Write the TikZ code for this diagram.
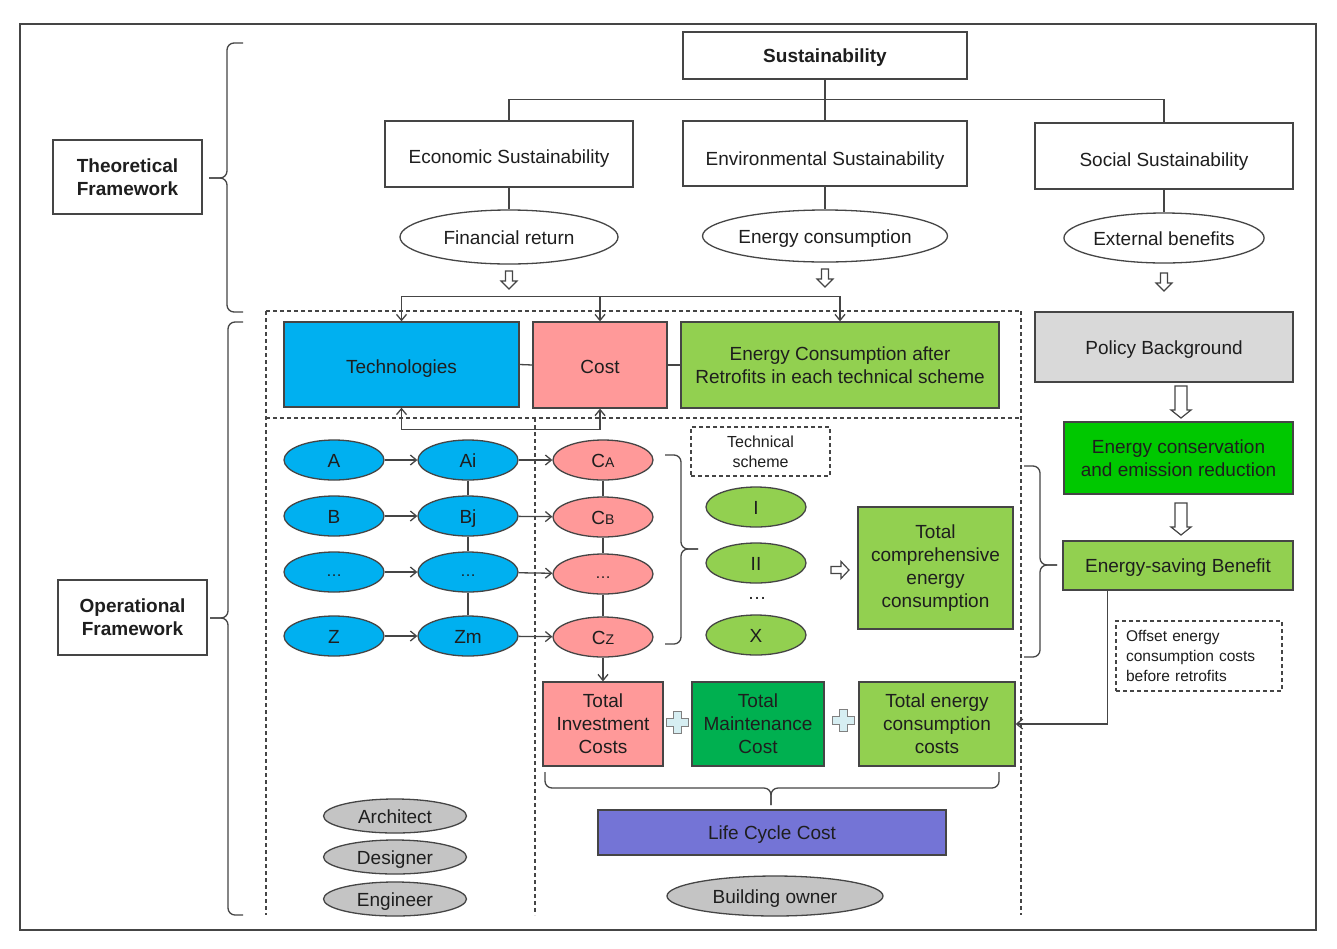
\documentclass[tikz,border=0pt]{standalone}
\usepackage{fontspec}
\setmainfont{Liberation Sans}
\usetikzlibrary{shapes.geometric,arrows.meta,calc}
\definecolor{bc}{HTML}{454545}
\definecolor{cblue}{HTML}{00B0F0}
\definecolor{cpink}{HTML}{FF9999}
\definecolor{cgreen}{HTML}{92D050}
\definecolor{cdgreen}{HTML}{00B050}
\definecolor{cbgreen}{HTML}{00C800}
\definecolor{cpurple}{HTML}{7474D6}
\definecolor{cgrayell}{HTML}{C4C4C4}
\definecolor{cpolicy}{HTML}{D9D9D9}
\definecolor{cplus}{HTML}{D6EEF2}
\definecolor{ctext}{HTML}{1E1E1E}
\newcommand{\sbs}[1]{{\fontsize{14}{14}\selectfont #1}}
% vertical brace: x-end, x-body, x-tip, y-top, y-tip, y-bottom
\newcommand{\vbr}[6]{%
  \draw[ln, rounded corners=7pt] (#1,#4) -- (#2,#4) -- (#2,#5) -- (#3,#5);
  \draw[ln, rounded corners=7pt] (#3,#5) -- (#2,#5) -- (#2,#6) -- (#1,#6);}
% horizontal brace: y-end, y-body, y-tip, x-left, x-tip, x-right
\newcommand{\hbr}[6]{%
  \draw[ln, rounded corners=7pt] (#4,#1) -- (#4,#2) -- (#5,#2) -- (#5,#3);
  \draw[ln, rounded corners=7pt] (#5,#3) -- (#5,#2) -- (#6,#2) -- (#6,#1);}
\begin{document}
\begin{tikzpicture}[x=1pt,y=-1pt,
  every node/.style={font=\fontsize{19}{23}\selectfont, text=ctext},
  box/.style={draw=bc, line width=1.3, inner sep=0pt, align=center},
  one/.style={text height=14pt, text depth=0pt},
  ell/.style={ellipse, draw=bc, line width=1.3, inner sep=0pt, align=center, one},
  dbox/.style={draw=bc, line width=1.2, dash pattern=on 4pt off 3pt, inner sep=0pt},
  ln/.style={draw=bc, line width=1.3},
  arr/.style={draw=bc, line width=1.3, -{Straight Barb[length=6pt,width=10pt]}},
  dsh/.style={draw=bc, line width=1.3, dash pattern=on 4pt off 3pt},
  hol/.style={draw=bc, line width=1.2, fill=white},
  plusst/.style={draw=gray, line width=1, fill=cplus},
  dnarrow/.pic={\draw[hol] (-3.5,-9) -- (3.5,-9) -- (3.5,1) -- (8,1) -- (0,9) -- (-8,1) -- (-3.5,1) -- cycle;},
  bigdn/.pic={\draw[hol] (-6,-16) -- (6,-16) -- (6,8) -- (10,8) -- (0,16) -- (-10,8) -- (-6,8) -- cycle;},
  rtarrow/.pic={\draw[hol] (-9,-3.5) -- (1,-3.5) -- (1,-8.5) -- (9,0) -- (1,8.5) -- (1,3.5) -- (-9,3.5) -- cycle;},
  plussign/.pic={\draw[plusst] (-4,-11) -- (4,-11) -- (4,-4) -- (11,-4) -- (11,4) -- (4,4) -- (4,11) -- (-4,11) -- (-4,4) -- (-11,4) -- (-11,-4) -- (-4,-4) -- cycle;}
]
\useasboundingbox (0,0) rectangle (1337,948);
\fill[white] (0,0) rectangle (1337,948);
% outer frame
\draw[draw=bc, line width=1.4] (20,24) rectangle (1316,930);

% ---------- theoretical framework ----------
\node[box, one, minimum width=284, minimum height=47, font=\fontsize{19}{23}\selectfont\bfseries] (sus) at (825,55.5) {Sustainability};
\node[box, one, text height=18pt, minimum width=248, minimum height=66] (eco) at (509,154) {Economic Sustainability};
\node[box, one, text height=24pt, minimum width=284, minimum height=65] (env) at (825,153.5) {Environmental Sustainability};
\node[box, one, text height=20pt, minimum width=258, minimum height=66] (soc) at (1164,156) {Social Sustainability};
\draw[ln] (sus.south) -- (env.north);
\draw[ln] (eco.north) -- ++(0,-21) -| (soc.north);
\node[ell, minimum width=218, minimum height=54] (fin) at (509,237) {Financial return};
\node[ell, minimum width=228, minimum height=52] (enc) at (825,236) {Energy consumption};
\node[ell, minimum width=200, minimum height=50] (ext) at (1164,238) {External benefits};
\draw[ln] (eco.south) -- (fin.north);
\draw[ln] (env.south) -- (enc.north);
\draw[ln] (soc.south) -- (ext.north);
\pic at (509,280) {dnarrow};
\pic at (825,278) {dnarrow};
\pic at (1164,282) {dnarrow};

\node[box, minimum width=149, minimum height=74, font=\fontsize{19}{23}\selectfont\bfseries] (theo) at (127.5,177) {Theoretical\\Framework};
\node[box, minimum width=149, minimum height=75, font=\fontsize{19}{23}\selectfont\bfseries] (oper) at (132.5,617.5) {Operational\\Framework};
\vbr{243}{227}{209}{43}{178}{312}
\vbr{243}{228}{210}{322}{618}{915}

% ---------- dashed regions ----------
\draw[dsh] (266,311) -- (1021,311);
\draw[dsh] (266,418) -- (1021,418);
\draw[dsh] (266,311) -- (266,915);
\draw[dsh] (1021,311) -- (1021,915);
\draw[dsh] (535,418) -- (535,915);

% ---------- top row ----------
\node[box, one, text height=17pt, fill=cblue, minimum width=235, minimum height=85] (tech) at (401.5,364.5) {Technologies};
\node[box, one, text height=16pt, fill=cpink, minimum width=134, minimum height=86] (cost) at (600,365) {Cost};
\node[box, fill=cgreen, minimum width=318, minimum height=86] (ecr) at (840,365) {Energy Consumption after\\Retrofits in each technical scheme};
\draw[ln] (tech.east) -- (cost.west);
\draw[ln] (cost.east) -- (ecr.west);
\draw[arr] (tech.north) ++(0,-25) -| (ecr.north);
\draw[arr] (tech.north) ++(0,-25) -- (tech.north);
\draw[arr] (cost.north) ++(0,-25) -- (cost.north);
\draw[arr] (tech.south) ++(0,22) -| (cost.south);
\draw[arr] (tech.south) ++(0,22) -- (tech.south);

% ---------- ellipses grid ----------
\tikzset{bell/.style={ell, fill=cblue, minimum width=100, minimum height=40},
         pell/.style={ell, fill=cpink, minimum width=100, minimum height=40},
         gell/.style={ell, fill=cgreen, minimum width=100, minimum height=40}}
\node[bell] (A) at (334,460) {A};
\node[bell] (Ai) at (468,460) {Ai};
\node[pell] (CA) at (603,460) {C\sbs{A}};
\node[bell] (B) at (334,516) {B};
\node[bell] (Bj) at (468,516) {Bj};
\node[pell] (CB) at (603,517) {C\sbs{B}};
\node[bell, text height=8pt] (D1) at (334,572) {\fontsize{16}{16}\selectfont …};
\node[bell, text height=8pt] (D2) at (468,572) {\fontsize{16}{16}\selectfont …};
\node[pell, text height=8pt] (D3) at (603,574) {\fontsize{16}{16}\selectfont …};
\node[bell] (Z) at (334,636) {Z};
\node[bell] (Zm) at (468,636) {Zm};
\node[pell] (Cz) at (603,637) {C\sbs{Z}};
\foreach \a/\b in {A/Ai,Ai/CA,B/Bj,Bj/CB,D1/D2,D2/D3,Z/Zm,Zm/Cz} \draw[arr] (\a) -- (\b);
\draw[ln] (Ai) -- (Bj) -- (D2) -- (Zm);
\draw[ln] (CA) -- (CB) -- (D3) -- (Cz);
\vbr{665}{681}{698}{455}{549}{644}

\node[dbox, minimum width=139, minimum height=49, align=center, font=\fontsize{16}{20}\selectfont] (ts) at (760.5,451.5) {Technical\\scheme};
\node[gell] (S1) at (756,507) {I};
\node[gell] (S2) at (756,563) {II};
\node (S3) at (757,598) {…};
\node[gell] (SX) at (756,635) {X};
\pic at (840,570) {rtarrow};
\node[box, fill=cgreen, minimum width=155, minimum height=122] (tce) at (935.5,568) {Total\\comprehensive\\energy\\consumption};
\vbr{1024}{1040}{1057}{466}{565}{657}

% ---------- cost row ----------
\node[box, fill=cpink, minimum width=120, minimum height=84] (tic) at (603,724) {Total\\Investment\\Costs};
\node[box, fill=cdgreen, minimum width=132, minimum height=84] (tmc) at (758,724) {Total\\Maintenance\\Cost};
\node[box, fill=cgreen, minimum width=156, minimum height=84] (tecc) at (937,724) {Total energy\\consumption\\costs};
\pic at (677,722) {plussign};
\pic at (843,720) {plussign};
\draw[arr] (Cz) -- (tic);
\hbr{772}{788}{805}{545}{771}{999}
\node[box, one, fill=cpurple, minimum width=348, minimum height=45] (lcc) at (772,832.5) {Life Cycle Cost};
\node[ell, fill=cgrayell, minimum width=216, minimum height=40] (own) at (775,896) {Building owner};
\node[ell, fill=cgrayell, minimum width=143, minimum height=34] (arch) at (395,816) {Architect};
\node[ell, fill=cgrayell, minimum width=143, minimum height=34] (des) at (395,857) {Designer};
\node[ell, fill=cgrayell, minimum width=143, minimum height=34] (eng) at (395,899) {Engineer};

% ---------- right column ----------
\node[box, one, fill=cpolicy, minimum width=258, minimum height=70] (pol) at (1164,347) {Policy Background};
\pic at (1181,402) {bigdn};
\node[box, fill=cbgreen, minimum width=229, minimum height=72] (ecer) at (1178.5,458) {Energy conservation\\and emission reduction};
\pic at (1181,519) {bigdn};
\node[box, one, fill=cgreen, minimum width=230, minimum height=49] (esb) at (1178,565.5) {Energy-saving Benefit};
\node[dbox, minimum width=166, minimum height=70, text width=146pt, align=left, font=\fontsize{15.5}{20}\selectfont] (off) at (1199,656) {Offset energy\\consumption costs\\before retrofits};
\draw[arr] ($(esb.south west)+(45,0)$) |- (tecc.east);
\end{tikzpicture}
\end{document}
